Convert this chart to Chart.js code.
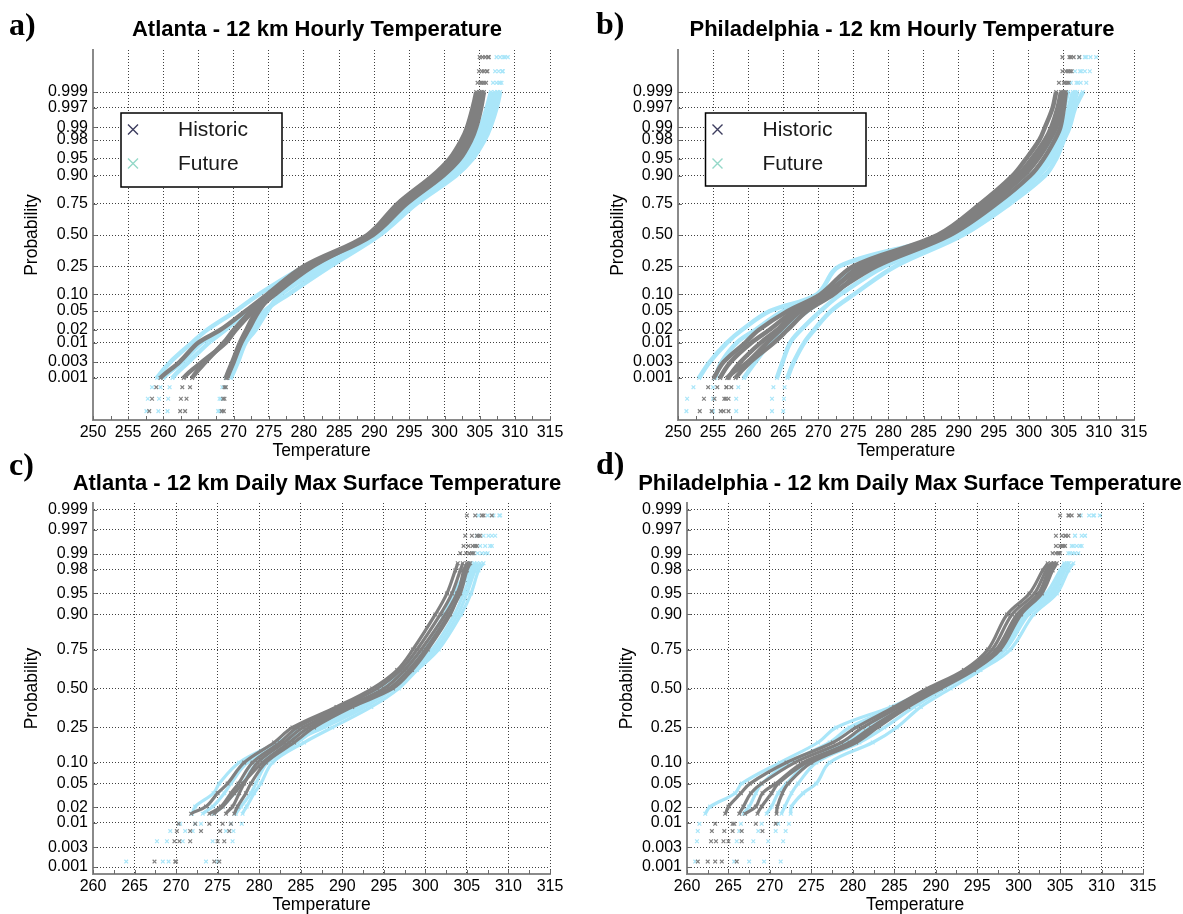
<!DOCTYPE html>
<html>
<head>
<meta charset="utf-8">
<script src="https://cdn.jsdelivr.net/npm/chart.js@4.4.1/dist/chart.umd.min.js"></script>
<style>
  html, body { margin: 0; padding: 0; background: #fff; overflow: hidden; }
  body { width: 1183px; height: 914px; position: relative; }
  .panel { position: absolute; }
  .tag { position: absolute; font-family: "Liberation Serif", "Times New Roman", serif; font-weight: bold; font-size: 32px; line-height: 32px; color: #000; }
  .title { position: absolute; width: 800px; text-align: center; white-space: nowrap;
           font-family: "Liberation Sans", Arial, Helvetica, sans-serif; font-weight: bold; font-size: 22px; line-height: 26px; color: #000; }
</style>
</head>
<body>
<div class="panel" style="left:0px; top:0px"><canvas id="chartA" width="590" height="462"></canvas></div>
<div class="panel" style="left:590px; top:0px"><canvas id="chartB" width="593" height="462"></canvas></div>
<div class="panel" style="left:0px; top:458px"><canvas id="chartC" width="590" height="458"></canvas></div>
<div class="panel" style="left:590px; top:458px"><canvas id="chartD" width="593" height="458"></canvas></div>
<div class="title" style="left:-83px; top:16px">Atlanta - 12 km Hourly Temperature</div>
<div class="title" style="left:502px; top:16px">Philadelphia - 12 km Hourly Temperature</div>
<div class="title" style="left:-83px; top:470px">Atlanta - 12 km Daily Max Surface Temperature</div>
<div class="title" style="left:510px; top:470px">Philadelphia - 12 km Daily Max Surface Temperature</div>
<div class="tag" style="left:9px; top:8px">a)</div>
<div class="tag" style="left:596px; top:7px">b)</div>
<div class="tag" style="left:9px; top:448px">c)</div>
<div class="tag" style="left:596px; top:447px">d)</div>
<script>
// tick labels of the normal probability axis
const PROB_TICKS = [0.001, 0.003, 0.01, 0.02, 0.05, 0.10, 0.25, 0.50, 0.75, 0.90, 0.95, 0.98, 0.99, 0.997, 0.999];
const PROB_LABELS = ['0.001', '0.003', '0.01', '0.02', '0.05', '0.10', '0.25', '0.50', '0.75', '0.90', '0.95', '0.98', '0.99', '0.997', '0.999'];
const TEMP_TICKS_HOURLY = [250, 255, 260, 265, 270, 275, 280, 285, 290, 295, 300, 305, 310, 315];
const TEMP_TICKS_DAILY = [260, 265, 270, 275, 280, 285, 290, 295, 300, 305, 310, 315];
const LEGEND_LABELS = ['Historic', 'Future'];

// probability levels at which each ensemble member was read
const P_HOURLY = [0.00007, 0.0002, 0.0005, 0.001, 0.003, 0.01, 0.02, 0.05, 0.10, 0.25, 0.50,
                  0.75, 0.90, 0.95, 0.98, 0.99, 0.997, 0.999, 0.9995, 0.9998, 0.99994];
const P_DAILY = [0.00137, 0.0041, 0.0068, 0.0096, 0.0151, 0.0205, 0.035, 0.05, 0.10, 0.175, 0.25, 0.375,
                 0.50, 0.625, 0.75, 0.90, 0.95, 0.9795, 0.9849, 0.9904, 0.9932, 0.9959, 0.99863];

// a) Atlanta hourly (K)
const ATL_HOURLY_HIST = [
  [258.0, 258.4, 259.0, 259.6, 262.3, 265.0, 268.1, 271.7, 274.8, 280.0, 289.0, 293.3, 298.3, 300.7, 302.4, 303.2, 304.0, 304.5, 304.7, 304.9, 305.0],
  [262.4, 262.5, 262.7, 262.9, 265.5, 268.9, 270.3, 272.8, 275.6, 280.6, 289.3, 293.9, 298.9, 301.3, 303.0, 303.8, 304.6, 305.0, 305.3, 305.6, 305.8],
  [263.1, 263.3, 263.8, 264.1, 266.0, 268.6, 270.0, 272.5, 275.2, 280.3, 289.6, 294.3, 299.4, 301.8, 303.5, 304.2, 305.0, 305.3, 305.6, 306.0, 306.2],
  [268.6, 268.7, 268.9, 269.1, 270.0, 271.1, 272.1, 273.6, 275.5, 281.0, 289.8, 294.6, 299.8, 302.2, 303.8, 304.5, 305.2, 305.6, 305.9, 306.1, 306.3],
  [268.3, 268.5, 268.7, 268.9, 269.8, 270.9, 271.8, 273.3, 275.9, 281.3, 289.2, 293.7, 298.6, 301.0, 302.8, 303.6, 304.4, 304.9, 305.1, 305.3, 305.4]
];
const ATL_HOURLY_FUT = [
  [257.6, 257.8, 258.4, 259.1, 261.0, 264.1, 266.2, 270.3, 273.6, 280.2, 289.5, 294.8, 300.0, 302.5, 304.3, 305.1, 306.0, 306.6, 306.9, 307.2, 307.4],
  [259.3, 259.4, 259.6, 260.0, 262.7, 265.5, 268.4, 272.2, 275.0, 281.5, 290.0, 295.3, 300.6, 303.0, 304.8, 305.6, 306.5, 307.1, 307.4, 307.7, 307.9],
  [268.0, 268.2, 268.8, 269.6, 270.6, 271.7, 273.1, 274.8, 276.7, 283.0, 290.6, 295.8, 301.2, 303.6, 305.3, 306.1, 307.0, 307.6, 307.9, 308.2, 308.4],
  [260.6, 260.7, 260.9, 261.3, 263.6, 266.5, 268.8, 272.0, 275.5, 282.2, 290.3, 295.5, 301.0, 303.4, 305.2, 306.0, 306.9, 307.5, 307.8, 308.2, 309.0],
  [267.8, 268.0, 268.4, 268.9, 270.2, 271.4, 272.6, 274.4, 277.8, 283.8, 290.8, 296.0, 301.6, 304.0, 305.7, 306.5, 307.4, 307.9, 308.1, 308.3, 308.6]
];

// b) Philadelphia hourly (K)
const PHL_HOURLY_HIST = [
  [253.1, 253.7, 254.3, 255.1, 256.5, 259.6, 261.5, 265.6, 270.3, 275.0, 287.0, 293.1, 297.7, 299.6, 301.5, 302.3, 303.4, 303.9, 304.3, 304.8, 304.8],
  [256.1, 256.6, 256.9, 257.2, 258.9, 261.8, 264.1, 267.0, 271.3, 276.0, 287.6, 293.8, 298.4, 300.4, 302.3, 303.2, 304.1, 304.6, 305.0, 305.3, 305.8],
  [257.2, 257.2, 257.6, 258.2, 260.3, 263.7, 265.6, 268.4, 272.2, 277.2, 288.2, 294.6, 299.3, 301.3, 303.0, 303.9, 304.7, 305.1, 305.5, 305.9, 306.4],
  [256.5, 256.8, 256.9, 257.0, 259.9, 262.7, 264.6, 267.5, 271.8, 278.3, 288.8, 295.4, 300.2, 302.1, 303.7, 304.5, 305.0, 305.3, 305.7, 306.1, 307.2],
  [254.8, 255.2, 255.6, 256.0, 257.5, 260.5, 263.0, 266.5, 270.8, 276.6, 287.3, 294.2, 298.9, 300.9, 302.7, 303.5, 304.4, 304.8, 305.2, 305.6, 306.0]
];
const PHL_HOURLY_FUT = [
  [251.2, 251.3, 252.2, 253.0, 254.5, 257.0, 259.1, 263.1, 269.8, 273.0, 288.0, 294.2, 299.1, 301.2, 303.1, 304.2, 305.0, 305.6, 306.0, 306.6, 307.2],
  [255.0, 255.0, 255.0, 255.3, 256.2, 258.4, 261.0, 265.0, 270.5, 275.4, 288.6, 295.2, 300.2, 302.3, 304.0, 304.9, 305.7, 306.3, 306.8, 307.3, 308.0],
  [263.4, 263.4, 263.6, 264.1, 264.9, 266.0, 267.5, 270.3, 273.2, 279.5, 289.8, 296.4, 301.4, 303.3, 304.6, 305.4, 306.2, 306.9, 307.4, 308.0, 308.8],
  [265.0, 265.1, 265.2, 265.6, 266.5, 268.0, 269.4, 271.8, 275.1, 281.0, 290.6, 297.3, 302.3, 303.9, 305.0, 305.8, 306.6, 307.7, 308.2, 308.7, 309.6],
  [258.3, 258.3, 258.6, 259.4, 261.0, 263.2, 265.1, 268.4, 272.0, 277.8, 289.2, 295.8, 300.8, 302.8, 304.3, 305.2, 306.0, 306.6, 307.0, 307.5, 308.2]
];

// c) Atlanta daily max (K)
const ATL_DAILY_HIST = [
  [267.4, 269.8, 270.1, 270.3, 271.8, 273.6, 275.0, 276.2, 278.2, 281.8, 284.0, 289.3, 293.6, 296.6, 298.5, 301.2, 302.6, 303.6, 303.9, 304.2, 304.6, 304.8, 305.0],
  [269.9, 270.4, 271.7, 272.3, 274.0, 275.4, 276.6, 277.5, 279.2, 282.5, 284.6, 289.8, 294.2, 297.0, 299.0, 301.8, 303.2, 304.2, 304.5, 304.9, 305.2, 305.6, 306.0],
  [274.6, 275.0, 275.3, 275.6, 276.0, 276.8, 277.6, 278.2, 279.8, 283.0, 285.3, 290.4, 295.0, 297.5, 299.5, 302.4, 303.8, 304.8, 305.2, 305.6, 306.0, 306.4, 306.8],
  [270.0, 271.7, 273.0, 274.0, 274.6, 275.6, 277.0, 278.0, 280.4, 283.6, 286.0, 290.9, 295.6, 298.0, 300.0, 302.8, 304.2, 305.0, 305.4, 305.8, 306.2, 306.6, 307.0],
  [275.2, 275.8, 276.4, 276.6, 277.0, 277.4, 278.4, 279.0, 280.8, 284.2, 286.6, 291.2, 296.1, 298.4, 300.3, 303.0, 304.0, 304.6, 305.0, 305.3, 305.7, 306.2, 308.0]
];
const ATL_DAILY_FUT = [
  [264.0, 267.7, 269.3, 270.5, 271.9, 272.3, 274.5, 275.2, 277.6, 282.2, 285.2, 290.7, 294.4, 297.2, 299.6, 302.3, 303.4, 305.0, 305.5, 305.8, 306.0, 306.2, 306.4],
  [268.4, 268.9, 271.1, 272.3, 273.2, 274.4, 275.8, 276.6, 278.6, 283.0, 286.2, 291.5, 295.0, 297.8, 300.2, 302.9, 304.0, 305.4, 305.9, 306.3, 306.6, 307.0, 307.5],
  [273.6, 274.4, 276.0, 276.6, 277.2, 277.8, 279.0, 279.6, 281.0, 284.6, 287.2, 292.2, 295.6, 298.3, 300.8, 303.5, 304.6, 305.7, 306.2, 306.8, 307.2, 307.6, 308.2],
  [269.1, 270.8, 272.0, 273.0, 274.5, 275.6, 277.0, 278.0, 279.8, 283.8, 287.8, 292.8, 296.2, 298.7, 301.2, 303.9, 305.0, 306.0, 306.6, 307.2, 307.8, 308.0, 308.9],
  [275.0, 276.8, 276.9, 277.9, 278.0, 278.5, 279.4, 280.2, 281.6, 285.4, 288.8, 293.5, 296.8, 299.0, 301.6, 304.3, 305.5, 306.4, 307.0, 307.5, 308.0, 308.4, 309.0]
];

// d) Philadelphia daily max (K)
const PHL_DAILY_HIST = [
  [261.3, 262.9, 263.0, 263.4, 264.6, 265.0, 266.5, 267.6, 272.0, 277.6, 280.4, 285.0, 289.0, 293.4, 296.3, 298.6, 301.3, 302.9, 303.5, 304.1, 304.5, 304.5, 305.0],
  [263.4, 264.4, 265.5, 265.7, 266.3, 266.8, 267.7, 269.0, 273.0, 278.6, 281.2, 285.6, 289.6, 293.8, 296.8, 299.2, 301.9, 303.3, 303.9, 304.5, 305.0, 305.2, 306.1],
  [264.2, 265.0, 266.6, 268.3, 268.5, 269.0, 270.2, 271.0, 274.4, 279.6, 282.2, 286.2, 290.0, 294.2, 297.3, 299.8, 302.4, 303.6, 304.2, 304.8, 305.4, 305.7, 307.3],
  [266.0, 266.6, 269.1, 270.7, 270.8, 270.9, 271.5, 272.2, 275.0, 280.4, 283.0, 286.7, 290.6, 294.6, 297.8, 300.3, 302.8, 304.1, 304.6, 305.0, 305.6, 306.0, 306.4],
  [262.5, 263.5, 264.5, 265.5, 267.0, 268.3, 269.1, 270.7, 274.0, 280.0, 282.6, 286.4, 290.3, 294.4, 297.6, 300.0, 302.6, 303.8, 304.3, 304.8, 305.2, 305.6, 306.0]
];
const PHL_DAILY_FUT = [
  [261.0, 261.2, 261.3, 261.5, 262.2, 262.8, 265.8, 266.6, 271.2, 275.8, 278.0, 284.6, 289.4, 293.8, 297.4, 300.2, 303.3, 305.0, 305.5, 306.0, 306.4, 306.8, 309.1],
  [265.7, 266.0, 266.3, 266.5, 266.8, 267.5, 268.3, 269.0, 272.3, 277.2, 279.6, 285.2, 289.9, 294.2, 297.9, 300.6, 303.7, 305.3, 305.8, 306.2, 306.6, 306.8, 307.5],
  [269.3, 269.8, 270.7, 271.0, 271.4, 271.8, 272.6, 273.4, 275.6, 280.8, 283.8, 287.4, 291.0, 294.8, 298.4, 301.2, 304.2, 305.6, 306.1, 306.5, 307.0, 307.6, 308.5],
  [271.3, 271.6, 271.9, 272.3, 272.5, 272.6, 274.0, 275.6, 277.2, 282.4, 285.3, 288.2, 291.8, 295.4, 299.0, 301.8, 304.6, 306.0, 306.6, 307.2, 307.6, 308.0, 309.8],
  [267.5, 268.0, 268.6, 269.0, 269.6, 270.2, 271.0, 272.0, 274.5, 279.0, 282.0, 286.2, 290.5, 294.6, 298.0, 301.0, 304.0, 305.4, 306.0, 306.8, 307.4, 308.0, 309.0]
];

const FONT = '"Liberation Sans", Arial, Helvetica, sans-serif';
const GRAY = 'rgb(128,128,128)';
const BLUE = 'rgb(170,230,249)';

// inverse of the standard normal CDF (Acklam), used to place probabilities on the axis
function norminv(p) {
  const a = [-3.969683028665376e+01, 2.209460984245205e+02, -2.759285104469687e+02, 1.383577518672690e+02, -3.066479806614716e+01, 2.506628277459239e+00];
  const b = [-5.447609879822406e+01, 1.615858368580409e+02, -1.556989798598866e+02, 6.680131188771972e+01, -1.328068155288572e+01];
  const c = [-7.784894002430293e-03, -3.223964580411365e-01, -2.400758277161838e+00, -2.549732539343734e+00, 4.374664141464968e+00, 2.938163982698783e+00];
  const d = [7.784695709041462e-03, 3.224671290700398e-01, 2.445134137142996e+00, 3.754408661907416e+00];
  const plow = 0.02425;
  let q, r;
  if (p < plow) {
    q = Math.sqrt(-2 * Math.log(p));
    return (((((c[0]*q+c[1])*q+c[2])*q+c[3])*q+c[4])*q+c[5]) / ((((d[0]*q+d[1])*q+d[2])*q+d[3])*q+1);
  }
  if (p > 1 - plow) {
    q = Math.sqrt(-2 * Math.log(1 - p));
    return -(((((c[0]*q+c[1])*q+c[2])*q+c[3])*q+c[4])*q+c[5]) / ((((d[0]*q+d[1])*q+d[2])*q+d[3])*q+1);
  }
  q = p - 0.5;
  r = q * q;
  return (((((a[0]*r+a[1])*r+a[2])*r+a[3])*r+a[4])*r+a[5])*q / (((((b[0]*r+b[1])*r+b[2])*r+b[3])*r+b[4])*r+1);
}

// one dataset per ensemble member; the extreme tails are shown as loose x markers only
function memberSets(levels, members, label, color, o) {
  return members.map(temps => ({
    label: label,
    data: temps.map((t, k) => ({ x: t, y: norminv(levels[k]) })),
    showLine: true,
    borderColor: color,
    backgroundColor: color,
    borderWidth: o.lineWidth,
    tension: 0.35,
    pointStyle: 'crossRot',
    pointRadius: ctx => (Math.abs(ctx.raw.y) > o.markFrom ? 2.6 : 0),
    pointBorderWidth: 1.2,
    pointHoverRadius: 0,
    segment: {
      borderColor: ctx => (Math.abs(ctx.p0.parsed.y) > o.lineTo || Math.abs(ctx.p1.parsed.y) > o.lineTo) ? 'transparent' : undefined
    }
  }));
}

// small inward tick marks like the original axes
const innerTicks = {
  id: 'innerTicks',
  afterDraw(chart) {
    const ctx = chart.ctx, xs = chart.scales.x, ys = chart.scales.y;
    const area = chart.chartArea;
    ctx.save();
    ctx.strokeStyle = '#6a6a6a';
    ctx.lineWidth = 1;
    ctx.beginPath();
    ys.ticks.forEach(t => {
      const y = Math.round(ys.getPixelForValue(t.value)) + 0.5;
      ctx.moveTo(area.left, y);
      ctx.lineTo(area.left + 4, y);
    });
    for (let v = xs.min; v <= xs.max + 0.01; v += 2.5) {
      const x = Math.round(xs.getPixelForValue(v)) + 0.5;
      ctx.moveTo(x, area.bottom);
      ctx.lineTo(x, area.bottom - 4);
    }
    ctx.stroke();
    ctx.restore();
  }
};

// boxed legend placed inside the plot, as in panels a and b
const boxLegend = {
  id: 'boxLegend',
  afterDraw(chart, args, opts) {
    if (!opts.display) return;
    const ctx = chart.ctx;
    const { left, top, width, height } = opts;
    ctx.save();
    ctx.fillStyle = '#fff';
    ctx.fillRect(left, top, width, height);
    ctx.strokeStyle = '#000';
    ctx.lineWidth = 1.5;
    ctx.strokeRect(left, top, width, height);
    const rows = [top + 16.5, top + 50.5];
    const markColors = ['#3c3c5e', '#94d8c8'];
    rows.forEach((y, i) => {
      const mx = left + 12;
      ctx.strokeStyle = markColors[i];
      ctx.lineWidth = 1.4;
      ctx.beginPath();
      ctx.moveTo(mx - 5, y - 5); ctx.lineTo(mx + 5, y + 5);
      ctx.moveTo(mx - 5, y + 5); ctx.lineTo(mx + 5, y - 5);
      ctx.stroke();
      ctx.fillStyle = '#1a1a1a';
      ctx.font = '21px ' + FONT;
      ctx.textBaseline = 'middle';
      ctx.textAlign = 'left';
      ctx.fillText(LEGEND_LABELS[i], left + 57, y + 1);
    });
    ctx.restore();
  }
};

function makeChart(id, o) {
  const hist = memberSets(o.levels, o.hist, LEGEND_LABELS[0], GRAY, o.style);
  const fut = memberSets(o.levels, o.fut, LEGEND_LABELS[1], BLUE, o.style);
  return new Chart(document.getElementById(id), {
    type: 'scatter',
    data: { datasets: hist.concat(fut) },
    options: {
      responsive: false,
      animation: false,
      events: [],
      layout: { padding: { left: 0, right: o.padRight, top: o.padTop, bottom: 0 } },
      plugins: {
        legend: { display: false },
        tooltip: { enabled: false },
        title: { display: false },
        boxLegend: o.legend || { display: false }
      },
      scales: {
        x: {
          type: 'linear',
          min: o.xTicks[0],
          max: o.xTicks[o.xTicks.length - 1],
          afterBuildTicks: s => { s.ticks = o.xTicks.map(v => ({ value: v })); },
          afterFit: s => { s.height = 42; },
          ticks: { color: '#000', font: { family: FONT, size: 16 }, padding: 3, autoSkip: false, maxRotation: 0, callback: v => String(v) },
          grid: { color: 'rgba(0,0,0,0.75)', lineWidth: 1, drawTicks: false },
          border: { color: '#8a8a8a', width: 2, dash: [1, 2] },
          title: { display: true, text: 'Temperature', color: '#000', font: { family: FONT, size: 17.5 }, padding: 0 }
        },
        y: {
          type: 'linear',
          min: -o.zMax,
          max: o.zMax,
          afterBuildTicks: s => { s.ticks = PROB_TICKS.map(p => ({ value: norminv(p) })); },
          afterFit: s => { s.width = o.yWidth; },
          ticks: { color: '#000', font: { family: FONT, size: 16 }, padding: 5, autoSkip: false, callback: (v, i) => PROB_LABELS[i] },
          grid: { color: 'rgba(0,0,0,0.75)', lineWidth: 1, drawTicks: false },
          border: { color: '#8a8a8a', width: 2, dash: [1, 2] },
          title: { display: true, text: 'Probability', color: '#000', font: { family: FONT, size: 17.5 }, padding: { top: o.yTitlePad, bottom: 0 } }
        }
      }
    },
    plugins: [innerTicks, boxLegend]
  });
}

const HOURLY_STYLE = { lineWidth: 4.5, lineTo: 3.2, markFrom: 3.0 };
const DAILY_STYLE = { lineWidth: 3.2, lineTo: 2.2, markFrom: -1 };

makeChart('chartA', {
  levels: P_HOURLY, hist: ATL_HOURLY_HIST, fut: ATL_HOURLY_FUT, style: HOURLY_STYLE,
  xTicks: TEMP_TICKS_HOURLY, zMax: 4.0,
  yWidth: 93, yTitlePad: 21.7, padRight: 40, padTop: 50,
  legend: { display: true, left: 121, top: 113, width: 161, height: 74 }
});
makeChart('chartB', {
  levels: P_HOURLY, hist: PHL_HOURLY_HIST, fut: PHL_HOURLY_FUT, style: HOURLY_STYLE,
  xTicks: TEMP_TICKS_HOURLY, zMax: 4.0,
  yWidth: 88, yTitlePad: 17.9, padRight: 49, padTop: 50,
  legend: { display: true, left: 115.5, top: 113, width: 160.5, height: 73 }
});
makeChart('chartC', {
  levels: P_DAILY, hist: ATL_DAILY_HIST, fut: ATL_DAILY_FUT, style: DAILY_STYLE,
  xTicks: TEMP_TICKS_DAILY, zMax: 3.21,
  yWidth: 93, yTitlePad: 21.7, padRight: 40, padTop: 45
});
makeChart('chartD', {
  levels: P_DAILY, hist: PHL_DAILY_HIST, fut: PHL_DAILY_FUT, style: DAILY_STYLE,
  xTicks: TEMP_TICKS_DAILY, zMax: 3.21,
  yWidth: 97, yTitlePad: 26.6, padRight: 40, padTop: 45
});
</script>
</body>
</html>
